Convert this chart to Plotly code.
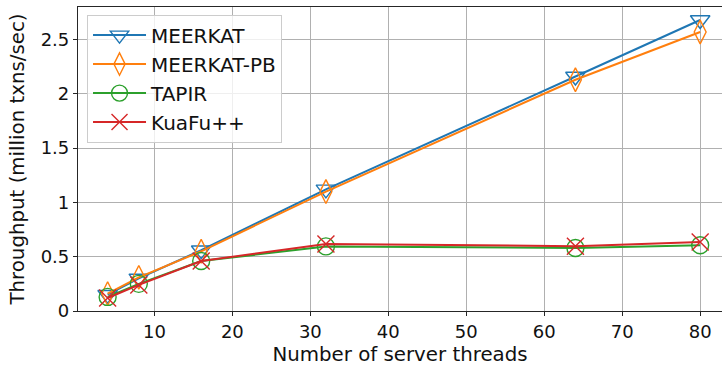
import plotly.graph_objects as go

threads = [4, 8, 16, 32, 64, 80]
meerkat = [0.15, 0.30, 0.56, 1.12, 2.16, 2.68]
meerkat_pb = [0.16, 0.31, 0.55, 1.10, 2.13, 2.57]
tapir = [0.13, 0.25, 0.46, 0.595, 0.58, 0.605]
kuafu = [0.12, 0.24, 0.46, 0.617, 0.597, 0.636]

names = ["MEERKAT", "MEERKAT-PB", "TAPIR", "KuaFu++"]
series = [meerkat, meerkat_pb, tapir, kuafu]
colors = ["#1f77b4", "#ff7f0e", "#2ca02c", "#d62728"]
symbols = ["triangle-down-open", "diamond-tall-open", "circle-open", "x-thin-open"]

FONT = "DejaVu Sans"

fig = go.Figure()
for n, s, c, sym in zip(names, series, colors, symbols):
    fig.add_trace(go.Scatter(
        x=threads, y=s, name=n, mode="lines+markers",
        line=dict(color=c, width=2),
        marker=dict(symbol=sym, size=17, color=c, line=dict(width=1.4, color=c)),
    ))

axis_common = dict(
    showgrid=True, gridcolor="#b0b0b0", gridwidth=1,
    showline=True, linecolor="#262626", linewidth=1.2, mirror=True,
    ticks="outside", ticklen=4, tickcolor="#262626",
    tickfont=dict(family=FONT, size=18, color="#111"),
    zeroline=False,
)

fig.update_layout(
    width=722, height=366,
    margin=dict(l=78, r=0, t=7, b=55),
    paper_bgcolor="white", plot_bgcolor="white",
    font=dict(family=FONT, size=18, color="#111"),
    xaxis=dict(range=[0.2, 82.8], tickvals=[10, 20, 30, 40, 50, 60, 70, 80],
               title=dict(text="Number of server threads", font=dict(family=FONT, size=19.8), standoff=9),
               **axis_common),
    yaxis=dict(range=[0, 2.8], tickvals=[0, 0.5, 1, 1.5, 2, 2.5],
               ticktext=["0", "0.5", "1", "1.5", "2", "2.5"],
               title=dict(text="Throughput (million txns/sec)", font=dict(family=FONT, size=19.8), standoff=10),
               **axis_common),
    legend=dict(x=0.014, y=0.975, xanchor="left", yanchor="top",
                bgcolor="rgba(255,255,255,0.8)", bordercolor="#cccccc", borderwidth=1,
                font=dict(family=FONT, size=20, color="#111"),
                itemwidth=53, tracegroupgap=0),
    showlegend=True,
)

fig.write_html("out.html")
